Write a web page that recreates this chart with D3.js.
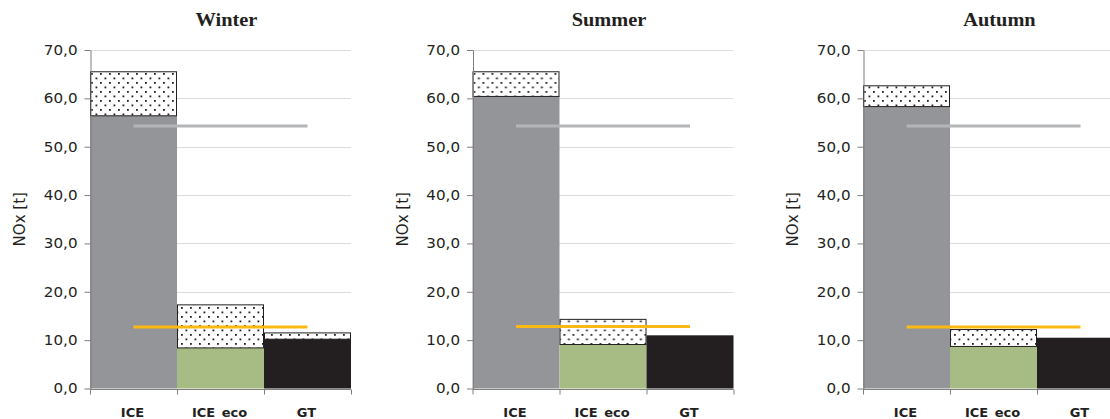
<!DOCTYPE html>
<html>
<head>
<meta charset="utf-8">
<script src="https://cdn.jsdelivr.net/npm/d3@7"></script>
<style>
  html, body { margin: 0; padding: 0; background: #ffffff; }
  svg { display: block; }
</style>
</head>
<body>
<svg id="chart" width="1110" height="419"></svg>
<script>
// NOx emissions [t] per engine option, one panel per season.
const categories = ["ICE", "ICE_eco", "GT"];
const seasons = ["Winter", "Summer", "Autumn"];

// Solid part of each stacked bar
const baseWinter = [56.5, 8.5, 10.3];
const baseSummer = [60.5, 9.2, 11.0];
const baseAutumn = [58.4, 8.8, 10.5];

// Dotted part stacked on top of the solid part
const extraWinter = [9.1, 8.9, 1.3];
const extraSummer = [5.1, 5.2, 0.0];
const extraAutumn = [4.3, 3.5, 0.0];

// Horizontal reference series (one value per season)
const refHigh = [54.3, 54.3, 54.3];
const refLow = [12.7, 12.8, 12.7];

const yTicks = [0, 10, 20, 30, 40, 50, 60, 70];

const baseBySeason = [baseWinter, baseSummer, baseAutumn];
const extraBySeason = [extraWinter, extraSummer, extraAutumn];

const barColors = { "ICE": "#939598", "ICE_eco": "#a7bc85", "GT": "#231f20" };
const axisLefts = [90, 472.5, 863];
const plotWidth = 261;
const yZero = 388.5, yTop = 50;

const svg = d3.select("#chart");

// dotted fill for the stacked top segment
const defs = svg.append("defs");
const pat = defs.append("pattern")
  .attr("id", "dots").attr("patternUnits", "userSpaceOnUse")
  .attr("width", 9).attr("height", 9);
pat.append("rect").attr("width", 9).attr("height", 9).attr("fill", "#ffffff");
pat.append("rect").attr("x", 1).attr("y", 1).attr("width", 1.8).attr("height", 1.8).attr("fill", "#231f20");
pat.append("rect").attr("x", 5.5).attr("y", 5.5).attr("width", 1.8).attr("height", 1.8).attr("fill", "#231f20");

const y = d3.scaleLinear().domain([0, 70]).range([yZero, yTop]);
const fmt = d => d3.format(".1f")(d).replace(".", ",");

seasons.forEach((season, i) => {
  const g = svg.append("g").attr("transform", `translate(${axisLefts[i]},0)`);
  const x = d3.scaleBand().domain(categories).range([0, plotWidth]).padding(0);
  const bw = x.bandwidth();
  const base = baseBySeason[i];
  const extra = extraBySeason[i];

  // gridlines
  g.append("g").selectAll("line")
    .data(yTicks.filter(t => t > 0))
    .join("line")
    .attr("x1", 0).attr("x2", plotWidth)
    .attr("y1", d => Math.round(y(d)) + 0.5).attr("y2", d => Math.round(y(d)) + 0.5)
    .attr("stroke", "#dcdcdc").attr("stroke-width", 1);

  // solid bars
  g.append("g").selectAll("rect")
    .data(categories)
    .join("rect")
    .attr("x", c => x(c))
    .attr("y", (c, k) => y(base[k]))
    .attr("width", bw)
    .attr("height", (c, k) => y(0) - y(base[k]))
    .attr("fill", c => barColors[c]);

  // dotted stacked segments
  g.append("g").selectAll("rect")
    .data(categories.filter((c, k) => extra[k] > 0))
    .join("rect")
    .attr("x", c => x(c) + 0.5)
    .attr("y", c => { const k = categories.indexOf(c); return y(base[k] + extra[k]) + 0.5; })
    .attr("width", bw - 1)
    .attr("height", c => { const k = categories.indexOf(c); return y(base[k]) - y(base[k] + extra[k]); })
    .attr("fill", "url(#dots)")
    .attr("stroke", "#231f20").attr("stroke-width", 1);

  // reference lines from first to last category centre
  const line = d3.line().x(d => x(d.c) + bw / 2).y(d => y(d.v));
  g.append("path")
    .attr("d", line(categories.map(c => ({ c, v: refHigh[i] }))))
    .attr("fill", "none").attr("stroke", "#b3b5b7").attr("stroke-width", 3);
  g.append("path")
    .attr("d", line(categories.map(c => ({ c, v: refLow[i] }))))
    .attr("fill", "none").attr("stroke", "#fdb913").attr("stroke-width", 3);

  // y axis
  const ya = g.append("g").attr("transform", "translate(0.5,0)")
    .call(d3.axisLeft(y).tickValues(yTicks).tickFormat(fmt).tickSize(6).tickSizeOuter(0).tickPadding(7));
  ya.select(".domain").attr("stroke", "#7f7f7f");
  ya.selectAll(".tick line").attr("stroke", "#7f7f7f");
  ya.selectAll(".tick text")
    .attr("font-family", "'DejaVu Sans', sans-serif")
    .attr("font-size", 13.5)
    .attr("fill", "#231f20")
    .attr("x", -13 / 1.12)
    .attr("transform", "scale(1.12,1)");

  // x axis
  const xa = g.append("g").attr("transform", `translate(0,${Math.round(yZero) + 0.5})`);
  xa.append("line").attr("x1", 0).attr("x2", plotWidth).attr("stroke", "#7f7f7f");
  xa.selectAll("line.tk")
    .data(categories.map(c => x(c)).concat([plotWidth]))
    .join("line").attr("class", "tk")
    .attr("x1", d => Math.round(d) + 0.5).attr("x2", d => Math.round(d) + 0.5)
    .attr("y1", 0).attr("y2", 5)
    .attr("stroke", "#7f7f7f");
  g.append("g").selectAll("text")
    .data(categories)
    .join("text")
    .attr("x", c => x(c) + bw / 2 - 1)
    .attr("y", 417)
    .attr("text-anchor", "middle")
    .attr("font-family", "'DejaVu Sans', sans-serif")
    .attr("font-weight", "bold")
    .attr("font-size", 13)
    .attr("fill", "#231f20")
    .text(c => c);

  // y axis title
  g.append("text")
    .attr("transform", `translate(-70,${(yZero + yTop) / 2}) rotate(-90)`)
    .attr("text-anchor", "middle")
    .attr("dy", "0.35em")
    .attr("font-family", "'DejaVu Sans', sans-serif")
    .attr("font-size", 15)
    .attr("fill", "#231f20")
    .text("NOx [t]");

  // panel title
  g.append("text")
    .attr("transform", `translate(${plotWidth / 2 + 6},26) scale(1.1,1)`)
    .attr("text-anchor", "middle")
    .attr("font-family", "'Liberation Serif', serif")
    .attr("font-weight", "bold")
    .attr("font-size", 18.5)
    .attr("fill", "#231f20")
    .text(season);
});
</script>
</body>
</html>
